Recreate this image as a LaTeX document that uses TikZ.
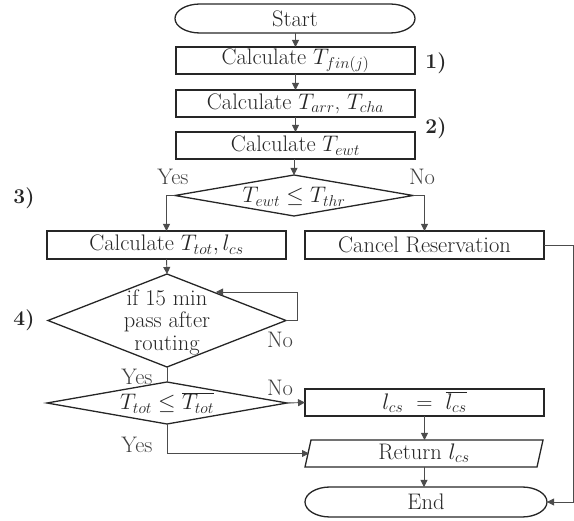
\RequirePackage{fix-cm}
\documentclass[tikz,border=0pt]{standalone}
\usetikzlibrary{arrows.meta,shapes.geometric}
\begin{document}
\begin{tikzpicture}[x=1pt,y=-1pt,
  every node/.style={font=\fontsize{22.5}{22.5}\selectfont, text=black!85},
  box/.style={draw=black!85, line width=1.3pt, rectangle, inner sep=0pt, outer sep=0pt},
  dec/.style={draw=black!85, line width=1.3pt, diamond, inner sep=0pt, outer sep=0pt},
  plain/.style={inner sep=0pt, outer sep=0pt},
  conn/.style={draw=black!70, line width=0.9pt},
  arr/.style={conn, -{Triangle[length=7pt,width=7pt]}},
  lab/.style={text=black!75},
  num/.style={font=\fontsize{21}{22.5}\selectfont\bfseries}]
\useasboundingbox (0,0) rectangle (574,521);

% Start terminal
\node[plain, minimum width=240pt, minimum height=29pt] (start) at (295,18.5) {Start};
\draw[draw=black!85, line width=1.3pt]
  ([xshift=25pt]start.north west) -- ([xshift=-25pt]start.north east)
  arc[start angle=90,end angle=-90,x radius=25pt,y radius=14.5pt]
  -- ([xshift=25pt]start.south west)
  arc[start angle=270,end angle=90,x radius=25pt,y radius=14.5pt] -- cycle;

\node[box, minimum width=239pt, minimum height=27pt] (b1) at (295.5,60.5) {Calculate $T_{fin(j)}$};
\node[box, minimum width=239pt, minimum height=27pt] (b2) at (295.5,103.5) {Calculate $T_{arr}$,\ $T_{cha}$};
\node[box, minimum width=239pt, minimum height=27pt] (b3) at (295.5,145.5) {Calculate $T_{ewt}$};

\node[num] (n1) at (436,63) {1)};
\node[num] (n2) at (436,128) {2)};
\node[num] (n3) at (24,198) {3)};
\node[num] (n4) at (24,320) {4)};

% Decision 1
\node[dec, minimum width=238pt, minimum height=41pt] (d1) at (294,195.5) {};
\node[plain] (d1t) at (294,197) {$T_{ewt} \le T_{thr}$};

\node[box, minimum width=239pt, minimum height=28pt] (b4) at (166.5,245) {Calculate $T_{tot}, l_{cs}$};
\node[box, minimum width=239pt, minimum height=28pt] (b5) at (424.5,245) {Cancel Reservation};

% Decision 2
\node[dec, minimum width=238pt, minimum height=93pt] (d2) at (167,320.5) {};
\node[plain, align=center] (d2t) at (167,322) {if 15 min\\pass after\\routing};

% Decision 3
\node[dec, minimum width=240pt, minimum height=42pt] (d3) at (167,403) {};
\node[plain] (d3t) at (167,403) {$T_{tot} \le \overline{T_{tot}}$};

\node[box, minimum width=239pt, minimum height=27pt] (b6) at (424.5,402.5) {$l_{cs}\ =\ \overline{l_{cs}}$};

% Return parallelogram
\node[plain, minimum width=232pt, minimum height=27pt] (ret) at (424,453.5) {Return $l_{cs}$};
\draw[draw=black!85, line width=1.3pt]
  ([xshift=-3pt]ret.south west) -- ([xshift=3pt]ret.north west)
  -- ([xshift=3pt]ret.north east) -- ([xshift=-3pt]ret.south east) -- cycle;
\coordinate (retin) at ([xshift=1pt]ret.west);

% End terminal
\node[plain, minimum width=242pt, minimum height=30pt] (end) at (426,502) {End};
\draw[draw=black!85, line width=1.3pt]
  ([xshift=25pt]end.north west) -- ([xshift=-25pt]end.north east)
  arc[start angle=90,end angle=-90,x radius=25pt,y radius=15pt]
  -- ([xshift=25pt]end.south west)
  arc[start angle=270,end angle=90,x radius=25pt,y radius=15pt] -- cycle;

% Connectors
\draw[arr] (start.south -| b1.north) -- (b1.north);
\draw[arr] (b1) -- (b2);
\draw[arr] (b2) -- (b3);
\draw[arr] (b3.south -| d1.north) -- (d1.north);
\draw[arr] (d1.west) -| (b4.north);
\draw[arr] (d1.east) -| (b5.north);
\draw[arr] (b4.south) -- (d2.north);
\coordinate (loopA) at (297,320.5);
\coordinate (loopB) at (297,292);
\coordinate (loopend) at (216,292);
\draw[arr] (d2.east) -- (loopA) -- (loopB) -- (loopend);
\draw[conn] (d2.south) -- (d3.north);
\draw[arr] (d3.east) -- (b6.west);
\draw[arr] (b6.south) -- (b6.south |- ret.north);
\draw[arr] (d3.south) |- (retin);
\draw[arr] (ret.south) -- (ret.south |- end.north);
\coordinate (cr1) at (573,245);
\coordinate (cr2) at (573,502);
\draw[arr] (b5.east) -- (cr1) -- (cr2) -- (end.east);

% Branch labels
\node[lab] (y1) at (173,177) {Yes};
\node[lab] (no1) at (422,177) {No};
\node[lab] (no2) at (280,340) {No};
\node[lab] (y2) at (137,377) {Yes};
\node[lab] (no3) at (280,388) {No};
\node[lab] (y3) at (137,445) {Yes};
\end{tikzpicture}
\end{document}
